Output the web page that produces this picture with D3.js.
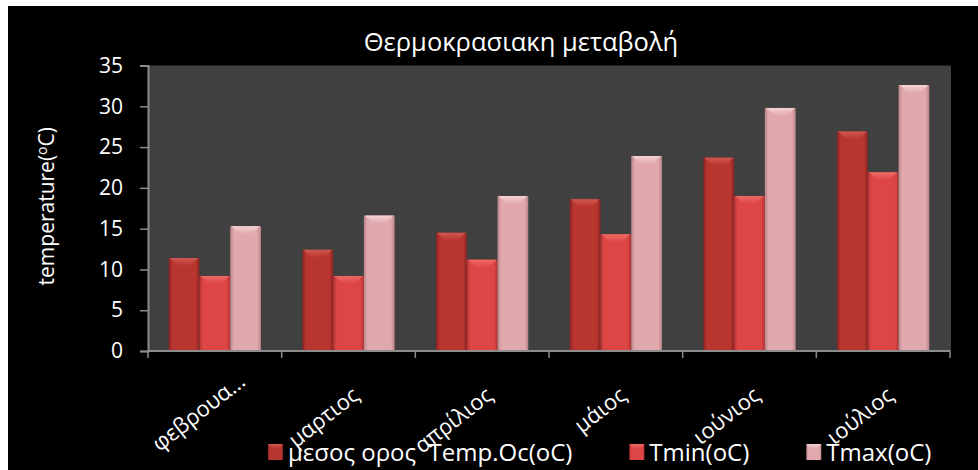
<!DOCTYPE html>
<html>
<head>
<meta charset="utf-8">
<script src="https://cdn.jsdelivr.net/npm/d3@7"></script>
<style>
    body { margin: 0; background: #ffffff; }
    text { font-family: "Open Sans", sans-serif; fill: #ffffff; }
</style>
</head>
<body>
<div class="barChart"></div>
<script>
// chart data
var categories = ["φεβρουα...", "μαρτιος", "απρίλιος", "μάιος", "ιούνιος", "ιούλιος"];
var seriesNames = ["μεσος ορος  Temp.Oc(oC)", "Tmin(oC)", "Tmax(oC)"];
var meanTemp = [11.4, 12.4, 14.5, 18.6, 23.7, 26.9];
var minTemp = [9.2, 9.2, 11.2, 14.3, 19.0, 21.9];
var maxTemp = [15.3, 16.6, 19.0, 23.9, 29.8, 32.6];
var yTicks = [0, 5, 10, 15, 20, 25, 30, 35];
var titleText = "Θερμοκρασιακη μεταβολή";

function init() {
    var w = 978;
    var h = 470;
    var left = 148, right = 950, top = 65.5, bottom = 351;

    // colours per series: edge, centre, cap
    var colours = [
        { edge: "#8c2222", mid: "#b8362f", cap: "#d0584f" },
        { edge: "#b53232", mid: "#de4646", cap: "#ee6a62" },
        { edge: "#b98489", mid: "#e1a8ad", cap: "#f4d2d4" }
    ];
    var seriesData = [meanTemp, minTemp, maxTemp];

    var svg = d3.select(".barChart")
        .append("svg")
        .attr("width", w)
        .attr("height", h);

    // white frame, black chart area
    svg.append("rect").attr("width", w).attr("height", h).attr("fill", "#ffffff");
    svg.append("rect").attr("x", 8).attr("y", 6).attr("width", w - 8).attr("height", h - 6).attr("fill", "#000000");

    // gradients
    var defs = svg.append("defs");
    colours.forEach(function(c, i) {
        var g = defs.append("linearGradient").attr("id", "bar" + i)
            .attr("x1", "0").attr("x2", "1").attr("y1", "0").attr("y2", "0");
        g.append("stop").attr("offset", "0").attr("stop-color", c.edge);
        g.append("stop").attr("offset", "0.12").attr("stop-color", c.mid);
        g.append("stop").attr("offset", "0.5").attr("stop-color", c.mid);
        g.append("stop").attr("offset", "0.88").attr("stop-color", c.mid);
        g.append("stop").attr("offset", "1").attr("stop-color", c.edge);
        var t = defs.append("linearGradient").attr("id", "cap" + i)
            .attr("x1", "0").attr("x2", "0").attr("y1", "0").attr("y2", "1");
        t.append("stop").attr("offset", "0").attr("stop-color", c.cap);
        t.append("stop").attr("offset", "1").attr("stop-color", c.mid);
    });

    // scales
    var xScale = d3.scaleBand()
        .domain(categories)
        .range([left, right])
        .paddingInner(0.31)
        .paddingOuter(0.155);

    var xInner = d3.scaleBand()
        .domain([0, 1, 2])
        .range([0, xScale.bandwidth()])
        .padding(0);

    var yScale = d3.scaleLinear()
        .domain([0, 35])
        .range([bottom, top]);

    // plot background
    svg.append("rect")
        .attr("x", left)
        .attr("y", top)
        .attr("width", right - left + 1)
        .attr("height", bottom - top)
        .attr("fill", "#404040");

    // bars
    seriesData.forEach(function(values, s) {
        var grp = svg.append("g").attr("class", "series" + s);
        grp.selectAll(".bar")
            .data(values)
            .enter().append("rect")
            .attr("class", "bar")
            .attr("x", function(d, i) { return xScale(categories[i]) + xInner(s); })
            .attr("y", function(d) { return yScale(d); })
            .attr("width", xInner.bandwidth())
            .attr("height", function(d) { return bottom - yScale(d); })
            .attr("fill", "url(#bar" + s + ")");
        // top cap with a V highlight
        grp.selectAll(".cap")
            .data(values)
            .enter().append("path")
            .attr("class", "cap")
            .attr("d", function(d, i) {
                var x0 = xScale(categories[i]) + xInner(s);
                var bw = xInner.bandwidth();
                var y0 = yScale(d);
                return "M" + (x0 + 1) + "," + y0 + "L" + (x0 + bw - 1) + "," + y0 +
                    "L" + (x0 + bw * 0.68) + "," + (y0 + 8) + "L" + (x0 + bw * 0.32) + "," + (y0 + 8) + "Z";
            })
            .attr("fill", "url(#cap" + s + ")");
    });

    // y axis
    var yAxis = d3.axisLeft(yScale)
        .tickValues(yTicks)
        .tickSize(8)
        .tickPadding(17);

    var yG = svg.append("g")
        .attr("transform", "translate(" + left + ",0)")
        .call(yAxis);
    yG.select(".domain").attr("stroke", "#8c8c8c").attr("stroke-width", 2);
    yG.selectAll(".tick line").attr("stroke", "#8c8c8c").attr("stroke-width", 1.5);
    yG.selectAll(".tick text")
        .attr("fill", "#ffffff")
        .style("font-family", "Open Sans")
        .style("font-size", "21px");

    // x axis line and boundary ticks
    svg.append("line")
        .attr("x1", left).attr("x2", right)
        .attr("y1", bottom).attr("y2", bottom)
        .attr("stroke", "#8c8c8c").attr("stroke-width", 2);
    var step = xScale.step();
    var bounds = categories.map(function(c) { return xScale(c) - step * 0.155; });
    bounds.push(right);
    svg.selectAll(".xtick")
        .data(bounds)
        .enter().append("line")
        .attr("class", "xtick")
        .attr("x1", function(d) { return d; })
        .attr("x2", function(d) { return d; })
        .attr("y1", bottom)
        .attr("y2", bottom + 7)
        .attr("stroke", "#8c8c8c").attr("stroke-width", 1.5);

    // x labels, rotated
    svg.selectAll(".xlabel")
        .data(categories)
        .enter().append("text")
        .attr("class", "xlabel")
        .attr("transform", function(d, i) {
            var cx = xScale(d) + xScale.bandwidth() / 2 + 12;
            var cy = 398;
            if (i === 0) { cx += 20; cy -= 14; }
            return "translate(" + cx + "," + cy + ") rotate(-38)";
        })
        .attr("text-anchor", "end")
        .style("font-size", "22px")
        .text(function(d) { return d; });

    // title
    svg.append("text")
        .attr("x", 521)
        .attr("y", 51)
        .attr("text-anchor", "middle")
        .style("font-size", "25.5px")
        .text(titleText);

    // y axis title
    var yt = svg.append("text")
        .attr("transform", "translate(54," + ((top + bottom) / 2 - 2) + ") rotate(-90)")
        .attr("text-anchor", "middle")
        .style("font-size", "21px");
    yt.append("tspan").text("temperature(");
    yt.append("tspan").attr("dy", -7).style("font-size", "14px").text("o");
    yt.append("tspan").attr("dy", 7).text("C)");

    // legend
    var lx = 268;
    seriesNames.forEach(function(name, s) {
        svg.append("rect")
            .attr("x", lx)
            .attr("y", 444)
            .attr("width", 15)
            .attr("height", 16)
            .attr("fill", "url(#bar" + s + ")");
        svg.append("path")
            .attr("d", "M" + lx + ",444L" + (lx + 15) + ",444L" + (lx + 10) + ",449L" + (lx + 5) + ",449Z")
            .attr("fill", "url(#cap" + s + ")");
        var t = svg.append("text")
            .attr("x", lx + 20)
            .attr("y", 461)
            .attr("xml:space", "preserve")
            .style("white-space", "pre")
            .style("font-size", "24px")
            .text(name);
        lx = lx + 20 + t.node().getComputedTextLength() + 57;
    });
}

window.onload = init;
</script>
</body>
</html>
